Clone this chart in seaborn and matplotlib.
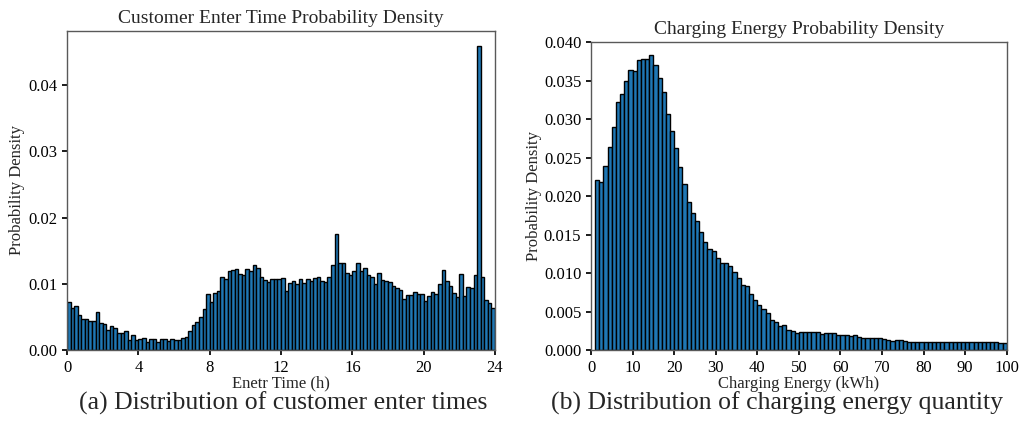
import numpy as np
import pandas as pd
import matplotlib
matplotlib.use("Agg")
import matplotlib.pyplot as plt
import seaborn as sns

# ---- data ----
enter_time_bin_width = 0.2  # hours
enter_time_density = [
    0.0072, 0.0063, 0.0066, 0.0053, 0.0047, 0.0047, 0.0044, 0.0044, 0.0058, 0.0041,
    0.0039, 0.0030, 0.0036, 0.0033, 0.0025, 0.0025, 0.0029, 0.0015, 0.0023, 0.0015,
    0.0017, 0.0018, 0.0012, 0.0017, 0.0017, 0.0012, 0.0017, 0.0016, 0.0013, 0.0016,
    0.0015, 0.0015, 0.0018, 0.0020, 0.0028, 0.0038, 0.0043, 0.0050, 0.0062, 0.0084,
    0.0073, 0.0086, 0.0089, 0.0110, 0.0108, 0.0119, 0.0121, 0.0123, 0.0115, 0.0113,
    0.0123, 0.0119, 0.0129, 0.0124, 0.0111, 0.0105, 0.0102, 0.0108, 0.0107, 0.0108,
    0.0109, 0.0089, 0.0101, 0.0104, 0.0099, 0.0107, 0.0101, 0.0107, 0.0104, 0.0109,
    0.0111, 0.0104, 0.0102, 0.0111, 0.0128, 0.0175, 0.0131, 0.0132, 0.0117, 0.0113,
    0.0120, 0.0131, 0.0119, 0.0124, 0.0113, 0.0111, 0.0100, 0.0116, 0.0106, 0.0104,
    0.0102, 0.0096, 0.0094, 0.0090, 0.0077, 0.0083, 0.0083, 0.0088, 0.0084, 0.0084,
    0.0074, 0.0082, 0.0088, 0.0085, 0.0099, 0.0121, 0.0104, 0.0097, 0.0086, 0.0080,
    0.0115, 0.0081, 0.0095, 0.0093, 0.0114, 0.0459, 0.0111, 0.0076, 0.0071, 0.0063,
]

energy_start = 1  # kWh, first non-empty bin
energy_bin_width = 1  # kWh
energy_density = [
    0.0221, 0.0218, 0.0239, 0.0264, 0.0290, 0.0322, 0.0332, 0.0349, 0.0364, 0.0363,
    0.0377, 0.0378, 0.0378, 0.0383, 0.0370, 0.0353, 0.0335, 0.0306, 0.0285, 0.0262,
    0.0238, 0.0216, 0.0192, 0.0178, 0.0168, 0.0153, 0.0140, 0.0131, 0.0128, 0.0120,
    0.0113, 0.0113, 0.0109, 0.0101, 0.0093, 0.0085, 0.0083, 0.0073, 0.0065, 0.0059,
    0.0053, 0.0048, 0.0039, 0.0036, 0.0031, 0.0032, 0.0026, 0.0025, 0.0022, 0.0023,
    0.0023, 0.0024, 0.0023, 0.0024, 0.0021, 0.0022, 0.0022, 0.0022, 0.0020, 0.0019,
    0.0020, 0.0018, 0.0019, 0.0017, 0.0016, 0.0015, 0.0015, 0.0015, 0.0015, 0.0014,
    0.0013, 0.0012, 0.0013, 0.0013, 0.0012, 0.0011, 0.0011, 0.0011, 0.0010, 0.0010,
    0.0011, 0.0010, 0.0010, 0.0011, 0.0010, 0.0010, 0.0010, 0.0010, 0.0010, 0.0010,
    0.0010, 0.0010, 0.0010, 0.0010, 0.0010, 0.0010, 0.0010, 0.0009, 0.0009,
]

left_xticks = [0, 4, 8, 12, 16, 20, 24]
left_yticks = [0.00, 0.01, 0.02, 0.03, 0.04]
right_xticks = [0, 10, 20, 30, 40, 50, 60, 70, 80, 90, 100]
right_yticks = [0.000, 0.005, 0.010, 0.015, 0.020, 0.025, 0.030, 0.035, 0.040]

# ---- style ----
sns.set_theme(style="ticks")
plt.rcParams["font.family"] = ["Liberation Serif", "DejaVu Serif"]
plt.rcParams["mathtext.fontset"] = "stix"
plt.rcParams["axes.edgecolor"] = "0.35"
plt.rcParams["axes.linewidth"] = 1.0
plt.rcParams["xtick.color"] = "black"
plt.rcParams["ytick.color"] = "black"
plt.rcParams["xtick.major.size"] = 3.5
plt.rcParams["ytick.major.size"] = 3.5

BAR = "#1f77b4"

fig = plt.figure(figsize=(10.19, 4.21), dpi=100)
ax1 = fig.add_axes([0.0658, 0.1686, 0.420, 0.758])
ax2 = fig.add_axes([0.580, 0.1686, 0.408, 0.7316])

# left histogram
t_edges = (np.arange(len(enter_time_density) + 1) * enter_time_bin_width).tolist()
df_t = pd.DataFrame({
    "hour": [(a + b) / 2 for a, b in zip(t_edges[:-1], t_edges[1:])],
    "density": enter_time_density,
})
sns.histplot(data=df_t, x="hour", weights="density", bins=t_edges, stat="count",
             color=BAR, alpha=1, edgecolor="black", linewidth=1.0, ax=ax1)
ax1.set_xlim(0, 24)
ax1.set_xticks(left_xticks)
ax1.set_yticks(left_yticks)
ax1.set_yticklabels([f"{v:.2f}" for v in left_yticks])
ax1.set_title("Customer Enter Time Probability Density", fontsize=14)
ax1.set_xlabel("Enetr Time (h)", fontsize=12, labelpad=0)
ax1.set_ylabel("Probability Density", fontsize=12, labelpad=2)

# right histogram
e_edges = (energy_start + np.arange(len(energy_density) + 1) * energy_bin_width).tolist()
df_e = pd.DataFrame({
    "energy": [(a + b) / 2 for a, b in zip(e_edges[:-1], e_edges[1:])],
    "density": energy_density,
})
sns.histplot(data=df_e, x="energy", weights="density", bins=e_edges, stat="count",
             color=BAR, alpha=1, edgecolor="black", linewidth=1.0, ax=ax2)
ax2.set_xlim(0, 100)
ax2.set_ylim(0, 0.040)
ax2.set_xticks(right_xticks)
ax2.set_yticks(right_yticks)
ax2.set_yticklabels([f"{v:.3f}" for v in right_yticks])
ax2.set_title("Charging Energy Probability Density", fontsize=14)
ax2.set_xlabel("Charging Energy (kWh)", fontsize=12, labelpad=0)
ax2.set_ylabel("Probability Density", fontsize=12, labelpad=1)

for ax in (ax1, ax2):
    ax.tick_params(axis="both", labelsize=12, top=False, right=False)
    for s in ax.spines.values():
        s.set_visible(True)

fig.text(0.278, 0.043, "(a) Distribution of customer enter times",
         ha="center", va="center", fontsize=18.5)
fig.text(0.763, 0.043, "(b) Distribution of charging energy quantity",
         ha="center", va="center", fontsize=18.5)

fig.savefig("out.png", dpi=100)
